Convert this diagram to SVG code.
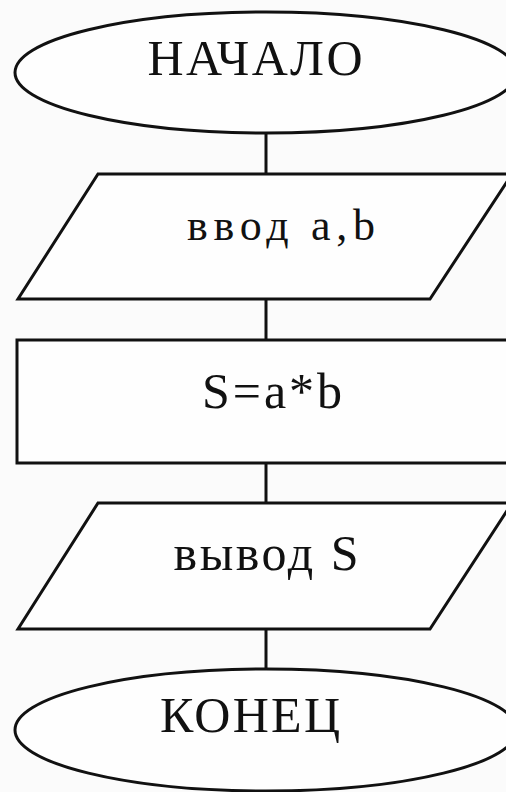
<svg xmlns="http://www.w3.org/2000/svg" width="506" height="792" viewBox="0 0 506 792">
<style>
.s{fill:#fefefe;stroke:#111;stroke-width:3}
.c{stroke:#111;stroke-width:3;fill:none}
.t{font-family:"Liberation Serif","Times New Roman",serif;font-size:50px;fill:#111;text-anchor:middle}
.sm{font-size:44px}
</style>
<rect width="506" height="792" fill="#fbfbfb"/>
<g id="connectors">
<line class="c" x1="266" y1="133" x2="266" y2="174"/>
<line class="c" x1="266" y1="299" x2="266" y2="340"/>
<line class="c" x1="266" y1="463" x2="266" y2="503"/>
<line class="c" x1="266" y1="629" x2="266" y2="669"/>
</g>
<g id="start">
<ellipse class="s" cx="266" cy="72.5" rx="251" ry="60.5"/>
<text class="t" x="255" y="75" textLength="215">НАЧАЛО</text>
</g>
<g id="input">
<polygon class="s" points="98,174 512,174 430,299 18,299"/>
<text class="t sm" x="281" y="240" textLength="188" lengthAdjust="spacing">ввод a,b</text>
</g>
<g id="process">
<rect class="s" x="17" y="340" width="500" height="123"/>
<text class="t" x="272" y="408" textLength="140">S=a*b</text>
</g>
<g id="output">
<polygon class="s" points="98,503 512,503 430,629 18,629"/>
<text class="t" x="266" y="570" textLength="185">вывод S</text>
</g>
<g id="end">
<ellipse class="s" cx="266" cy="730" rx="251" ry="61"/>
<text class="t" x="250" y="732" textLength="180">КОНЕЦ</text>
</g>
</svg>
